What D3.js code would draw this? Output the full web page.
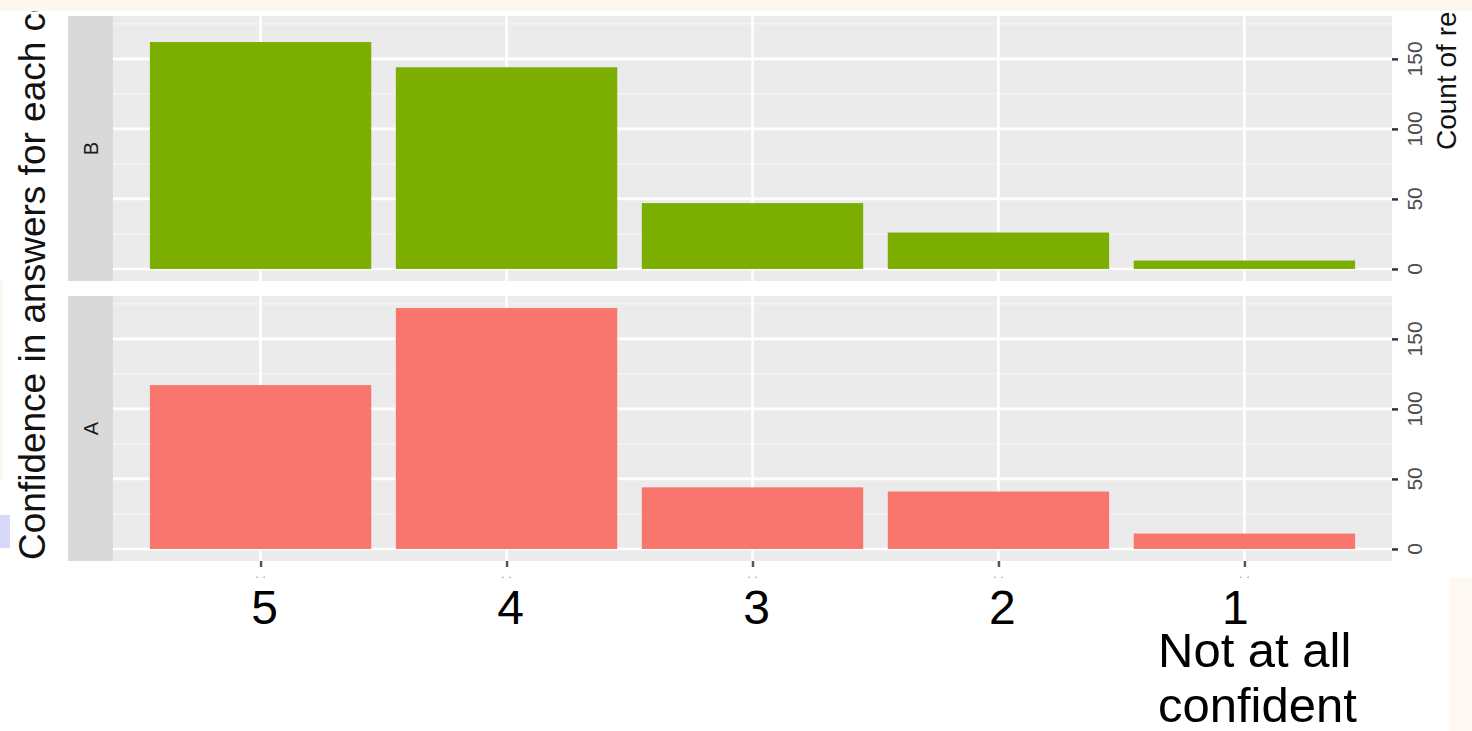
<!DOCTYPE html>
<html>
<head>
<meta charset="utf-8">
<script src="https://cdn.jsdelivr.net/npm/d3@7"></script>
<style>
  body { margin: 0; background: #fff; }
  svg { display: block; font-family: "Liberation Sans", Arial, sans-serif; }
</style>
</head>
<body>
<div id="chart"></div>
<script>
// confidence levels, left to right
const categories = ['5', '4', '3', '2', '1'];
// count of responses per panel
const countsB = [162, 144, 47, 26, 6];
const countsA = [117, 172, 44, 41, 11];
const panelNames = ['B', 'A'];
const panelColors = ['#7CAE00', '#F8766D'];
const yTicks = [0, 50, 100, 150];
const yMinor = [25, 75, 125, 175];
const yTitle = 'Confidence in answers for each condition';
const rightTitle = 'Count of responses';
const lastNote = ['Not at all', 'confident'];

const W = 1472, H = 731;
const panelLeft = 113, panelRight = 1392;
const stripLeft = 68;
const panelTops = [16, 296], panelH = 265;

const svg = d3.select('#chart').append('svg')
  .attr('width', W).attr('height', H);

const x = d3.scalePoint()
  .domain(categories)
  .range([panelLeft, panelRight])
  .padding(0.6);
const barW = x.step() * 0.9;

const yMax = d3.max(countsA.concat(countsB));

const panels = [countsB, countsA].map((values, i) => ({
  name: panelNames[i],
  color: panelColors[i],
  values: values,
  top: panelTops[i]
}));

panels.forEach(p => {
  const y = d3.scaleLinear()
    .domain([-0.05 * yMax, yMax * 1.05])
    .range([p.top + panelH, p.top]);

  const g = svg.append('g');

  // strip
  g.append('rect')
    .attr('x', stripLeft).attr('y', p.top)
    .attr('width', panelLeft - stripLeft).attr('height', panelH)
    .attr('fill', '#d9d9d9');
  g.append('text')
    .attr('transform', 'translate(' + 98 + ',' + (p.top + panelH / 2) + ') rotate(-90)')
    .attr('text-anchor', 'middle')
    .attr('font-size', 20)
    .attr('fill', '#1a1a1a')
    .text(p.name);

  // panel background + grid
  g.append('rect')
    .attr('x', panelLeft).attr('y', p.top)
    .attr('width', panelRight - panelLeft).attr('height', panelH)
    .attr('fill', '#ebebeb');

  g.selectAll('.minor').data(yMinor).enter().append('line')
    .attr('x1', panelLeft).attr('x2', panelRight)
    .attr('y1', d => y(d)).attr('y2', d => y(d))
    .attr('stroke', '#f5f5f5').attr('stroke-width', 1.3);
  g.selectAll('.major').data(yTicks).enter().append('line')
    .attr('x1', panelLeft).attr('x2', panelRight)
    .attr('y1', d => y(d)).attr('y2', d => y(d))
    .attr('stroke', '#fff').attr('stroke-width', 2.6);
  g.selectAll('.vgrid').data(categories).enter().append('line')
    .attr('x1', d => x(d)).attr('x2', d => x(d))
    .attr('y1', p.top).attr('y2', p.top + panelH)
    .attr('stroke', '#fff').attr('stroke-width', 2.6);

  // bars
  g.selectAll('.bar').data(p.values).enter().append('rect')
    .attr('x', (d, i) => x(categories[i]) - barW / 2)
    .attr('y', d => y(d))
    .attr('width', barW)
    .attr('height', d => y(0) - y(d))
    .attr('fill', p.color);

  // right axis
  const axis = g.append('g')
    .attr('transform', 'translate(' + panelRight + ',0)')
    .call(d3.axisRight(y).tickValues(yTicks).tickSize(6).tickPadding(0).tickFormat(() => ''));
  axis.select('.domain').remove();
  axis.selectAll('.tick line').attr('stroke', '#333').attr('stroke-width', 2.5);

  g.selectAll('.ylab').data(yTicks).enter().append('text')
    .attr('transform', d => 'translate(1422,' + y(d) + ') rotate(-90)')
    .attr('text-anchor', 'middle')
    .attr('font-size', 21)
    .attr('fill', '#4d4d4d')
    .text(d => d);
});

// bottom axis ticks
const bottom = panelTops[1] + panelH;
const xAxis = svg.append('g')
  .attr('transform', 'translate(0,' + bottom + ')')
  .call(d3.axisBottom(x).tickSize(6).tickFormat(() => ''));
xAxis.select('.domain').remove();
xAxis.selectAll('.tick line').attr('stroke', '#555').attr('stroke-width', 2.5);

svg.selectAll('.tinylab').data(categories).enter().append('text')
  .attr('x', d => x(d)).attr('y', bottom + 17)
  .attr('text-anchor', 'middle')
  .attr('font-size', 13)
  .attr('fill', '#999')
  .text('. .');

// big category labels (last one sits a little left, over its note)
svg.selectAll('.catlab').data(categories).enter().append('text')
  .attr('x', (d, i) => x(d) + (i === categories.length - 1 ? -9 : 4))
  .attr('y', 624)
  .attr('text-anchor', 'middle')
  .attr('font-size', 48)
  .attr('fill', '#000')
  .text(d => d);

svg.selectAll('.note').data(lastNote).enter().append('text')
  .attr('x', 1158).attr('y', (d, i) => 667 + i * 55)
  .attr('font-size', 49)
  .attr('fill', '#000')
  .text(d => d);

// titles
svg.append('text')
  .attr('transform', 'translate(45,560) rotate(-90)')
  .attr('font-size', 37)
  .attr('fill', '#111')
  .text(yTitle);

svg.append('text')
  .attr('transform', 'translate(1456,150) rotate(-90)')
  .attr('font-size', 28)
  .attr('fill', '#111')
  .text(rightTitle);

// screenshot leftovers
svg.append('rect').attr('x', 0).attr('y', 0).attr('width', W).attr('height', 11).attr('fill', '#fdf7ef');
svg.append('rect').attr('x', 0).attr('y', 280).attr('width', 3).attr('height', 200).attr('fill', '#fdf7ef');
svg.append('rect').attr('x', 0).attr('y', 515).attr('width', 10).attr('height', 33).attr('fill', '#d8d8fb');
svg.append('rect').attr('x', 1449).attr('y', 578).attr('width', 23).attr('height', 153).attr('fill', '#fdf8f1');
</script>
</body>
</html>
